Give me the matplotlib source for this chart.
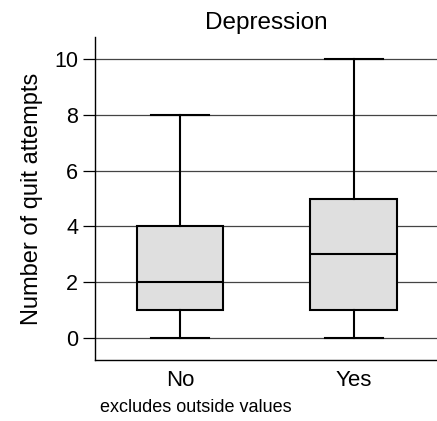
import matplotlib
matplotlib.use("Agg")
import matplotlib.pyplot as plt

# data
groups = ["No", "Yes"]
whisker_lo = [0, 0]
q1 = [1, 1]
median = [2, 3]
q3 = [4, 5]
whisker_hi = [8, 10]
yticks = [0, 2, 4, 6, 8, 10]

plt.rcParams['font.family'] = ['Liberation Sans', 'DejaVu Sans']

fig = plt.figure(figsize=(4.37, 4.21), dpi=100)
ax = fig.add_axes([0.2174, 0.1449, 0.7826, 0.7671])

stats = []
for i, g in enumerate(groups):
    stats.append({
        "label": g, "whislo": whisker_lo[i], "q1": q1[i], "med": median[i],
        "q3": q3[i], "whishi": whisker_hi[i], "fliers": [],
    })

ax.set_axisbelow(True)
ax.yaxis.grid(True, color="#444444", linewidth=0.9)
ax.bxp(stats, positions=[1, 2], widths=0.5, capwidths=0.333, patch_artist=True,
       showfliers=False,
       boxprops=dict(facecolor="#dfdfdf", edgecolor="black", linewidth=1.5),
       medianprops=dict(color="black", linewidth=1.5),
       whiskerprops=dict(color="black", linewidth=1.5),
       capprops=dict(color="black", linewidth=1.5))

ax.set_xlim(0.51, 2.48)
ax.set_ylim(-0.8, 10.8)
ax.set_yticks(yticks)
ax.tick_params(axis="y", labelsize=15.5, length=9, width=0.9, pad=3)
ax.tick_params(axis="x", labelsize=16, length=0, pad=7)
ax.spines["top"].set_visible(False)
ax.spines["right"].set_visible(False)
for s in ("left", "bottom"):
    ax.spines[s].set_linewidth(1.0)

ax.set_ylabel("Number of quit attempts", fontsize=17, labelpad=8)
ax.set_title("Depression", fontsize=17.5, pad=6)
fig.text(0.229, 0.022, "excludes outside values", fontsize=13)

fig.savefig("out.png", dpi=100)
